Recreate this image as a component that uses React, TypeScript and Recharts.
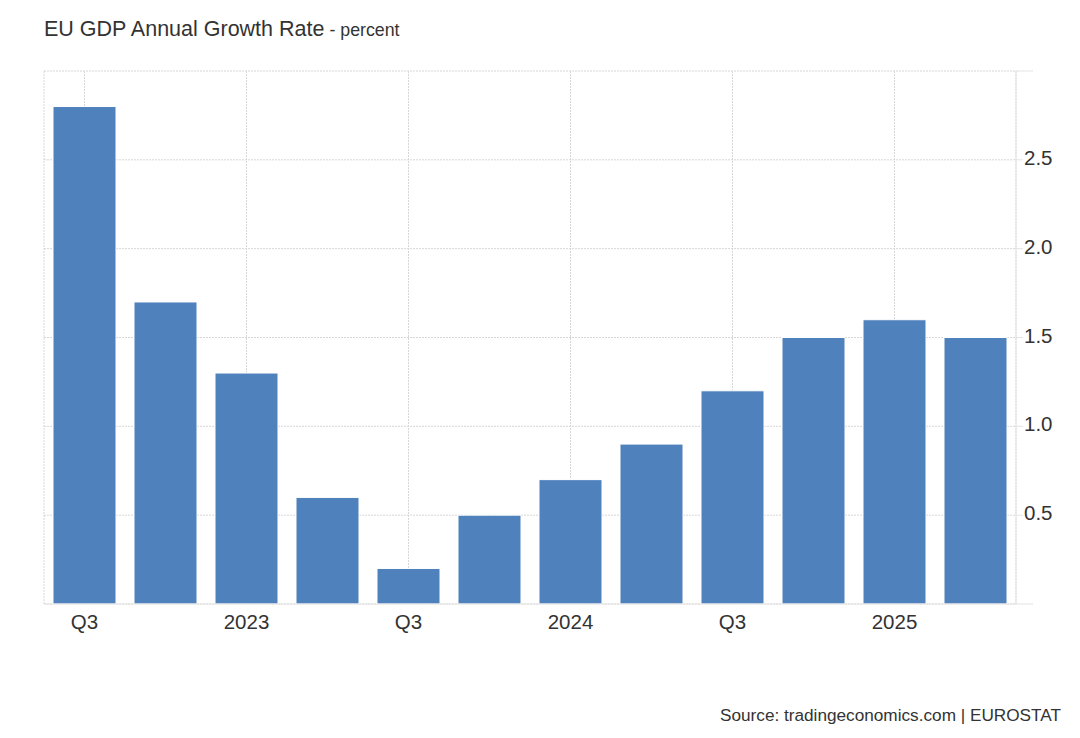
import React from "react";
import { BarChart, Bar, XAxis, YAxis, CartesianGrid } from "recharts";

const quarters = [
  "2022Q3", "2022Q4", "2023Q1", "2023Q2", "2023Q3", "2023Q4",
  "2024Q1", "2024Q2", "2024Q3", "2024Q4", "2025Q1", "2025Q2",
];
const growth = [2.8, 1.7, 1.3, 0.6, 0.2, 0.5, 0.7, 0.9, 1.2, 1.5, 1.6, 1.5];
const xTickKeys = ["2022Q3", "2023Q1", "2023Q3", "2024Q1", "2024Q3", "2025Q1"];
const xTickLabels = ["Q3", "2023", "Q3", "2024", "Q3", "2025"];
const yTicks = [0, 0.5, 1, 1.5, 2, 2.5, 3];
const yLabelTicks = [0.5, 1, 1.5, 2, 2.5];

const data = quarters.map((q, i) => ({ q, v: growth[i] }));

const FONT = "'Liberation Sans', Arial, Helvetica, sans-serif";
const TEXT = "#333333";
const AXIS = "#e3e3e3";
const GRID = "#d6d6d6";
const BAR = "#4f81bd";

const XTick = (props: any) => {
  const { x, y, payload } = props;
  const idx = xTickKeys.indexOf(payload.value);
  const label = idx >= 0 ? xTickLabels[idx] : "";
  return (
    <text x={x} y={y} dy={15} textAnchor="middle" fill={TEXT} fontSize={20.5} fontFamily={FONT}>
      {label}
    </text>
  );
};

const YTick = (props: any) => {
  const { x, y, payload } = props;
  const v = payload.value;
  const axisX = x - 8;
  const long = v === 0 || v === 3;
  const show = yLabelTicks.includes(v);
  return (
    <g>
      <line x1={axisX} x2={axisX + (long ? 17 : 7)} y1={y} y2={y} stroke={AXIS} strokeWidth={1} />
      {show && (
        <text x={x} y={y} dy={5} textAnchor="start" fill={TEXT} fontSize={20.5} fontFamily={FONT}>
          {v.toFixed(1)}
        </text>
      )}
    </g>
  );
};

export default function App() {
  return (
    <div style={{ position: "absolute", left: 0, top: 0, width: 1080, height: 738, background: "#fff" }}>
      <svg
        width={1080}
        height={738}
        style={{ position: "absolute", left: 0, top: 0, pointerEvents: "none" }}
      >
        <text x={44} y={36} fontFamily={FONT} fill={TEXT}>
          <tspan fontSize={21.5}>EU GDP Annual Growth Rate</tspan>
          <tspan fontSize={17.8}> - percent</tspan>
        </text>
        <text x={1061} y={721} textAnchor="end" fontFamily={FONT} fontSize={17.2} fill={TEXT}>
          Source: tradingeconomics.com | EUROSTAT
        </text>
      </svg>
      <div style={{ position: "absolute", left: 0, top: 0 }}>
        <BarChart
          width={1080}
          height={738}
          data={data}
          margin={{ top: 71, right: 0, left: 44, bottom: 94 }}
        >
          <CartesianGrid
            yAxisId="r"
            stroke={GRID}
            strokeDasharray="2 1"
            horizontal={true}
            vertical={true}
          />
          <XAxis
            dataKey="q"
            ticks={xTickKeys}
            interval={0}
            height={40}
            axisLine={{ stroke: AXIS, strokeWidth: 1 }}
            tickLine={false}
            tickMargin={4}
            tick={<XTick />}
          />
          <YAxis
            yAxisId="l"
            orientation="left"
            width={0}
            domain={[0, 3]}
            ticks={yTicks}
            tick={false}
            tickLine={false}
            axisLine={{ stroke: AXIS, strokeWidth: 1 }}
          />
          <YAxis
            yAxisId="r"
            orientation="right"
            width={64}
            domain={[0, 3]}
            ticks={yTicks}
            interval={0}
            tickLine={false}
            tickSize={6}
            tickMargin={2}
            axisLine={{ stroke: AXIS, strokeWidth: 1 }}
            tick={<YTick />}
          />
          <Bar
            yAxisId="r"
            dataKey="v"
            fill={BAR}
            stroke="#ffffff"
            strokeWidth={1}
            barSize={63}
            isAnimationActive={false}
          />
        </BarChart>
      </div>
    </div>
  );
}
